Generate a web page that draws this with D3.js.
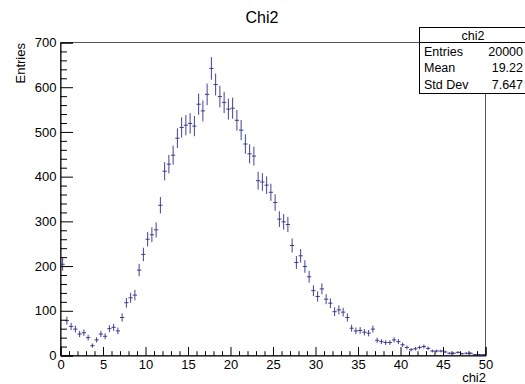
<!DOCTYPE html>
<html>
<head>
<meta charset="utf-8">
<script src="https://cdn.jsdelivr.net/npm/d3@7"></script>
<style>
  html, body { margin: 0; padding: 0; background: #fff; }
  svg { display: block; font-family: "Liberation Sans", Arial, Helvetica, sans-serif; }
</style>
</head>
<body>
<svg id="chart" width="525" height="384"></svg>
<script>
// Histogram "chi2": 100 bins of width 0.5 on [0, 50]
const binLow = 0;
const binHigh = 50;
const binCounts = [
  204, 78, 65, 59, 48, 51, 40, 22, 35, 48,
  43, 60, 63, 55, 85, 118, 129, 135, 191, 226,
  260, 270, 281, 336, 412, 428, 448, 486, 510, 515,
  519, 513, 562, 547, 584, 642, 606, 579, 566, 551,
  553, 526, 504, 473, 451, 446, 391, 388, 381, 365,
  342, 305, 299, 293, 246, 208, 223, 199, 176, 145,
  132, 149, 126, 117, 98, 102, 97, 85, 61, 55,
  56, 52, 50, 59, 34, 31, 29, 29, 35, 31,
  24, 18, 13, 15, 18, 20, 16, 10, 10, 10,
  8, 5, 5, 7, 4, 5, 5, 2, 2, 2
];
const xMajorTicks = [0, 5, 10, 15, 20, 25, 30, 35, 40, 45, 50];
const yMajorTicks = [0, 100, 200, 300, 400, 500, 600, 700];
const statLabels = ["Entries", "Mean", "Std Dev"];
const statValues = ["20000", "19.22", "7.647"];
const histName = "chi2";
const histTitle = "Chi2";

const svg = d3.select("#chart");
const frame = { left: 60.5, right: 485.5, top: 42.5, bottom: 355.5 };
const lineColor = "#2e2e88";

const x = d3.scaleLinear().domain([binLow, binHigh]).range([frame.left, frame.right]);
const y = d3.scaleLinear().domain([0, 700]).range([frame.bottom, frame.top]);

const nBins = binCounts.length;
const width = (binHigh - binLow) / nBins;
const bins = binCounts.map((c, i) => ({
  lo: binLow + i * width,
  hi: binLow + (i + 1) * width,
  mid: binLow + (i + 0.5) * width,
  n: c,
  err: Math.sqrt(c)
}));

// frame
svg.append("rect")
  .attr("x", frame.left).attr("y", frame.top)
  .attr("width", frame.right - frame.left)
  .attr("height", frame.bottom - frame.top)
  .attr("fill", "none").attr("stroke", "#555").attr("stroke-width", 1);

// error-bar markers
const g = svg.append("g").attr("stroke", lineColor).attr("stroke-opacity", 0.9).attr("stroke-width", 1);
g.selectAll("line.v").data(bins.filter(b => b.n > 0)).join("line")
  .attr("class", "v")
  .attr("x1", d => x(d.mid)).attr("x2", d => x(d.mid))
  .attr("y1", d => y(Math.max(0, d.n - d.err))).attr("y2", d => y(d.n + d.err));
g.selectAll("line.h").data(bins.filter(b => b.n > 0)).join("line")
  .attr("class", "h")
  .attr("x1", d => x(d.lo)).attr("x2", d => x(d.hi))
  .attr("y1", d => y(d.n)).attr("y2", d => y(d.n));

// y axis: minor every 20, major every 100 (ticks pointing inward)
const yMinor = d3.range(0, 701, 20).filter(v => v % 100 !== 0);
svg.append("g").attr("transform", `translate(${frame.left},0)`)
  .call(d3.axisLeft(y).tickValues(yMinor).tickSize(-6.5).tickFormat(""))
  .call(a => a.select(".domain").remove());
const yAxis = svg.append("g").attr("transform", `translate(${frame.left},0)`)
  .call(d3.axisLeft(y).tickValues(yMajorTicks).tickSize(-12.5).tickPadding(4).tickFormat(d3.format("d")));
yAxis.select(".domain").attr("stroke", "#000");
yAxis.selectAll("text").attr("font-size", 13).attr("fill", "#000")
  .attr("font-family", "Liberation Sans, Arial, sans-serif");

// x axis: minor every 1, major every 5
const xMinor = d3.range(0, 51, 1).filter(v => v % 5 !== 0);
svg.append("g").attr("transform", `translate(0,${frame.bottom})`)
  .call(d3.axisBottom(x).tickValues(xMinor).tickSize(-4.3).tickFormat(""))
  .call(a => a.select(".domain").remove());
const xAxis = svg.append("g").attr("transform", `translate(0,${frame.bottom})`)
  .call(d3.axisBottom(x).tickValues(xMajorTicks).tickSize(-8.5).tickPadding(4).tickFormat(d3.format("d")));
xAxis.select(".domain").attr("stroke", "#000");
xAxis.selectAll("text").attr("font-size", 13).attr("fill", "#000")
  .attr("font-family", "Liberation Sans, Arial, sans-serif");

// titles
svg.append("text").attr("x", 262).attr("y", 23).attr("text-anchor", "middle")
  .attr("font-size", 16).text(histTitle);
svg.append("text").attr("x", 486).attr("y", 381.5).attr("text-anchor", "end")
  .attr("font-size", 13).text(histName);
svg.append("text").attr("transform", "translate(24.5,43) rotate(-90)")
  .attr("text-anchor", "end").attr("font-size", 13).text("Entries");

// statistics box
const box = { x: 419.5, y: 27.5, w: 106, h: 66, header: 15 };
const sb = svg.append("g");
sb.append("rect").attr("x", box.x).attr("y", box.y).attr("width", box.w).attr("height", box.h)
  .attr("fill", "#fff").attr("stroke", "#000").attr("stroke-width", 1);
sb.append("line").attr("x1", box.x).attr("x2", box.x + box.w)
  .attr("y1", box.y + box.header).attr("y2", box.y + box.header).attr("stroke", "#000");
sb.append("text").attr("x", 473).attr("y", 39.5).attr("text-anchor", "middle")
  .attr("font-size", 12.5).text(histName);
sb.selectAll("text.lab").data(statLabels).join("text").attr("class", "lab")
  .attr("x", 424).attr("y", (d, i) => 55.5 + i * 16.8).attr("font-size", 12.5).text(d => d);
sb.selectAll("text.val").data(statValues).join("text").attr("class", "val")
  .attr("x", 523).attr("y", (d, i) => 55.5 + i * 16.8).attr("text-anchor", "end")
  .attr("font-size", 12.5).text(d => d);
</script>
</body>
</html>
